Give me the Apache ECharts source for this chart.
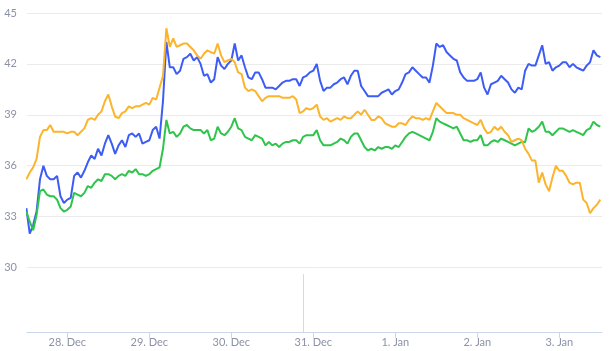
<!DOCTYPE html>
<html>
<head>
<meta charset="utf-8">
<script src="https://cdn.jsdelivr.net/npm/echarts@6/dist/echarts.min.js"></script>
<style>
    html, body { margin: 0; padding: 0; background: #fff; }
    #main { width: 615px; height: 351px; }
</style>
</head>
<body>
<div id="main"></div>
<script>
// hours counted from 27 Dec 00:00, one reading per hour
var startHour = 12;
var stepHours = 1;

var dayTicks = [24, 48, 72, 96, 120, 144, 168];
var dayLabels = ['28. Dec', '29. Dec', '30. Dec', '31. Dec', '1. Jan', '2. Jan', '3. Jan'];
var yTicks = [30, 33, 36, 39, 42, 45];

var blueValues = [
    33.5, 32.0, 32.5, 33.3, 35.2, 36.0, 35.4, 35.2, 35.2, 35.4, 34.2, 33.8, 34.0, 34.1, 35.4, 35.6, 35.3, 35.7, 36.2, 36.6, 36.4, 37.0,
    36.6, 37.3, 37.8, 37.3, 36.7, 37.2, 37.5, 37.1, 37.8, 37.9, 37.7, 37.9, 37.3, 37.4, 37.5, 38.1, 38.3, 37.6, 39.8, 43.3, 41.8,
    41.8, 41.4, 41.6, 42.3, 42.4, 42.6, 42.2, 42.4, 42.0, 41.3, 41.4, 40.9, 41.1, 42.4, 41.9, 41.7, 42.0, 42.2, 43.2, 42.2, 42.5,
    41.8, 41.2, 41.1, 41.5, 41.5, 41.1, 40.6, 40.6, 40.6, 40.5, 40.7, 40.9, 41.0, 41.0, 41.1, 41.1, 40.7, 41.2, 41.3, 41.5, 41.6,
    42.0, 41.0, 40.4, 40.6, 40.6, 40.8, 40.9, 41.1, 41.2, 40.8, 41.3, 41.6, 41.6, 40.7, 40.4, 40.1, 40.1, 40.1, 40.1, 40.3, 40.4,
    40.5, 40.2, 40.4, 40.5, 40.9, 41.4, 41.5, 41.8, 41.6, 41.4, 41.2, 41.2, 40.9, 41.9, 43.2, 43.0, 43.1, 42.7, 42.5, 42.3, 42.2,
    41.5, 41.2, 41.0, 41.0, 41.0, 41.1, 41.5, 40.6, 40.2, 40.8, 40.9, 41.0, 41.3, 41.1, 40.9, 40.5, 40.3, 40.6, 40.5, 41.6, 42.0,
    41.9, 41.9, 42.5, 43.1, 42.0, 42.1, 41.6, 41.8, 41.9, 42.1, 42.1, 41.8, 42.0, 41.8, 41.7, 41.6, 41.9, 42.1, 42.8, 42.5, 42.4
];
var greenValues = [
    33.3, 32.7, 32.2, 33.1, 34.5, 34.6, 34.3, 34.2, 34.2, 34.0, 33.5, 33.3, 33.4, 33.6, 34.4, 34.3, 34.2, 34.4, 34.8, 34.7, 35.0, 35.2,
    35.1, 35.5, 35.5, 35.4, 35.2, 35.4, 35.5, 35.4, 35.7, 35.6, 35.8, 35.5, 35.5, 35.4, 35.5, 35.7, 35.8, 35.9, 37.0, 38.7, 37.9,
    38.0, 37.7, 37.9, 38.3, 38.4, 38.2, 38.1, 38.1, 38.1, 37.9, 38.1, 37.5, 37.6, 38.3, 37.9, 37.8, 38.0, 38.3, 38.8, 38.2, 38.1,
    37.7, 37.6, 37.5, 37.8, 37.7, 37.6, 37.2, 37.4, 37.2, 37.3, 37.1, 37.3, 37.4, 37.4, 37.5, 37.5, 37.3, 37.7, 37.8, 37.8, 37.8,
    38.1, 37.5, 37.2, 37.2, 37.2, 37.3, 37.4, 37.6, 37.5, 37.3, 37.7, 37.9, 37.9, 37.5, 37.1, 36.9, 37.0, 36.9, 37.1, 37.0, 37.1,
    37.1, 37.0, 37.2, 37.1, 37.4, 37.7, 37.9, 38.0, 37.9, 37.8, 37.7, 37.6, 37.5, 38.0, 38.8, 38.6, 38.5, 38.4, 38.3, 38.2, 38.3,
    37.9, 37.5, 37.5, 37.4, 37.5, 37.5, 37.8, 37.2, 37.2, 37.4, 37.5, 37.4, 37.6, 37.5, 37.4, 37.3, 37.2, 37.3, 37.4, 37.4, 38.2,
    38.0, 38.1, 38.3, 38.6, 38.0, 38.0, 37.8, 38.0, 38.2, 38.2, 38.1, 38.0, 38.1, 38.0, 37.9, 37.8, 38.1, 38.2, 38.6, 38.4, 38.3
];
var orangeValues = [
    35.2, 35.6, 35.9, 36.4, 37.7, 38.1, 38.1, 38.4, 38.0, 38.0, 38.0, 38.0, 37.9, 38.0, 38.0, 37.8, 38.0, 38.2, 38.7, 38.8, 38.7, 39.0,
    39.2, 39.8, 40.2, 39.5, 38.9, 38.8, 39.1, 39.2, 39.5, 39.4, 39.5, 39.5, 39.6, 39.7, 39.6, 40.0, 39.9, 40.6, 41.3, 44.1, 43.0,
    43.5, 43.0, 43.1, 43.2, 43.2, 43.0, 42.8, 42.5, 42.3, 42.6, 42.8, 42.7, 42.6, 43.2, 42.5, 42.1, 42.2, 42.3, 42.1, 41.5, 41.4,
    40.6, 40.4, 40.5, 40.4, 40.1, 39.8, 40.0, 40.1, 40.1, 40.1, 40.1, 40.0, 40.0, 40.0, 40.1, 39.9, 39.1, 39.2, 39.4, 39.3, 39.4,
    39.6, 38.9, 38.7, 38.8, 38.6, 38.7, 38.8, 38.7, 38.9, 38.8, 38.8, 39.0, 39.2, 39.0, 39.3, 39.0, 38.7, 38.7, 38.9, 38.8, 38.5,
    38.4, 38.3, 38.3, 38.5, 38.5, 38.4, 38.7, 38.9, 38.8, 38.8, 38.7, 38.8, 38.7, 39.2, 39.7, 39.5, 39.3, 39.1, 39.1, 39.1, 39.0,
    39.0, 38.8, 38.7, 38.6, 38.5, 38.4, 38.7, 38.2, 37.9, 38.0, 38.3, 38.1, 38.3, 38.0, 37.8, 37.4, 37.5, 37.6, 37.5, 37.0, 36.7,
    36.3, 36.3, 35.0, 35.6, 34.9, 34.5, 35.3, 36.0, 35.7, 35.7, 35.4, 35.0, 34.9, 35.0, 35.0, 34.0, 33.8, 33.2, 33.5, 33.7, 34.0
];

// thin grey marker near the bottom
var markerHour = 93.2;
var markerTop = 29.6;

var xMin = 12.2;
var xMax = 180.5;
var yMin = 26.2;
var yMax = 45;

function toPoints(values) {
    var pts = [];
    for (var i = 0; i < values.length; i++) {
        pts.push([startHour + i * stepHours, values[i]]);
    }
    return pts;
}

function lineSeries(name, values, color) {
    return {
        name: name,
        type: 'line',
        data: toPoints(values),
        showSymbol: false,
        symbol: 'none',
        lineStyle: { color: color, width: 2 },
        itemStyle: { color: color }
    };
}

var labelColor = '#8c92a6';
var myChart = echarts.init(document.getElementById('main'));

var series = [
    lineSeries('blue', blueValues, '#3d5cf5'),
    lineSeries('green', greenValues, '#2fc44b'),
    lineSeries('orange', orangeValues, '#fbb42b')
];
series[0].markLine = {
    silent: true,
    symbol: 'none',
    label: { show: false },
    lineStyle: { color: '#d5d9e3', width: 1, type: 'solid' },
    data: [[{ coord: [markerHour, markerTop] }, { coord: [markerHour, yMin] }]]
};

var option = {
    animation: false,
    backgroundColor: '#fff',
    grid: { left: 27, right: 13, top: 13, bottom: 19 },
    xAxis: {
        type: 'value',
        min: xMin,
        max: xMax,
        axisLine: { show: true, lineStyle: { color: '#ccd6eb', width: 1 } },
        axisTick: { show: true, length: 6, customValues: dayTicks, lineStyle: { color: '#ccd6eb' } },
        axisLabel: {
            customValues: dayTicks,
            margin: 5,
            fontSize: 11,
            fontFamily: 'Lato',
            color: labelColor,
            formatter: function (v) {
                var idx = dayTicks.indexOf(Math.round(v));
                return idx >= 0 ? dayLabels[idx] : '';
            }
        },
        splitLine: { show: false }
    },
    yAxis: {
        type: 'value',
        min: yMin,
        max: yMax,
        axisLine: { show: false },
        axisTick: { show: false, customValues: yTicks },
        axisLabel: {
            customValues: yTicks,
            margin: 10,
            fontSize: 11,
            fontFamily: 'Lato',
            color: labelColor
        },
        splitLine: { show: true, lineStyle: { color: '#ebebeb', width: 1 } }
    },
    series: series
};

myChart.setOption(option);
</script>
</body>
</html>
